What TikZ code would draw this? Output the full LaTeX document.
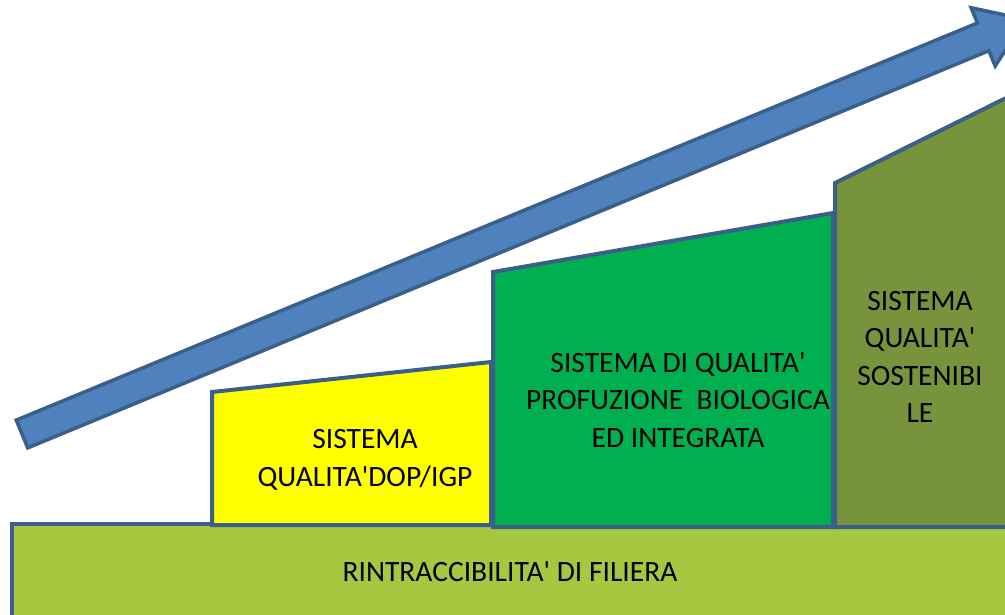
\documentclass[tikz,border=0pt]{standalone}
\usepackage{fontspec}
\setmainfont{Carlito}[Ligatures=TeXOff]
\definecolor{edge}{RGB}{58,95,139}
\definecolor{arrowfill}{RGB}{79,129,189}
\definecolor{barfill}{RGB}{166,200,64}
\definecolor{yellowfill}{RGB}{255,255,0}
\definecolor{greenfill}{RGB}{0,176,80}
\definecolor{olivefill}{RGB}{119,147,60}
\tikzset{
  block/.style={draw=edge, line width=4pt, line join=miter},
  label/.style={align=center, inner sep=0pt, font=\fontsize{29.5}{37.5}\selectfont, text=black},
}
\begin{document}
\begin{tikzpicture}[x=1pt, y=-1pt]
\useasboundingbox (0,0) rectangle (1005,614);
\clip (0,0) rectangle (1005,614);
\fill[white] (0,0) rectangle (1005,614);
% arrow
\begin{scope}[shift={(22,434)}, rotate=22.45]
\draw[fill=arrowfill, draw=edge, line width=3.5pt, line join=miter]
  (0,-15) -- (1040,-15) -- (1040,-31.5) -- (1086,0) -- (1040,31.5) -- (1040,15) -- (0,15) -- cycle;
\end{scope}
% base bar
\draw[block, fill=barfill] (12,524) rectangle (1030,640);
% steps
\draw[block, fill=yellowfill] (212,525) -- (212,392) -- (491,362) -- (491,525) -- cycle;
\draw[block, fill=greenfill] (493,527) -- (493,272) -- (833,213) -- (833,527) -- cycle;
\draw[block, fill=olivefill] (835,527) -- (835,183) -- (1010,96) -- (1030,96) -- (1030,527) -- cycle;
% texts
\node[label] (bar) at (510,572) {RINTRACCIBILITA' DI FILIERA};
\node[label] (dop) at (365,460) {SISTEMA\\QUALITA'DOP/IGP};
\node[label] (bio) at (678,400) {SISTEMA DI QUALITA'\\PROFUZIONE\ \ BIOLOGICA\\ED INTEGRATA};
\node[label] (sost) at (920,357) {SISTEMA\\QUALITA'\\SOSTENIBI\\LE};
\end{tikzpicture}
\end{document}
